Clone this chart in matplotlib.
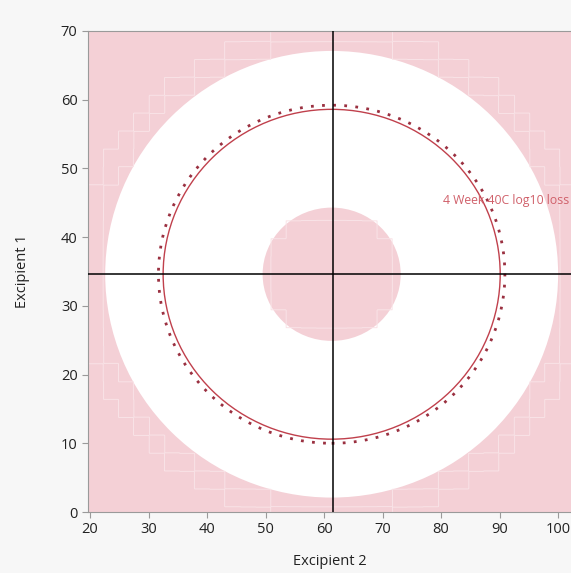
import numpy as np
import matplotlib
matplotlib.use("Agg")
import matplotlib.pyplot as plt
from matplotlib.patches import Ellipse

# ---- data ----
x_ticks = [20, 30, 40, 50, 60, 70, 80, 90, 100]
y_ticks = [0, 10, 20, 30, 40, 50, 60, 70]
x_label = "Excipient 2"
y_label = "Excipient 1"
cross_x = 61.5          # current Excipient 2 setting
cross_y = 34.6          # current Excipient 1 setting
center_x = 61.3
center_y = 34.6
outer_white_r = (38.7, 32.5)   # outer edge of white (feasible) band
inner_white_r = (11.8, 9.7)    # inner pink disk
contour_r = (28.8, 24.0)       # solid contour
contour_dot_r = (29.6, 24.6)   # dotted contour
contour_label = "4 Week 40C log10 loss"
label_pos = (80.3, 45.3)

pink = "#f4d0d6"
bg = "#f7f7f7"

fig = plt.figure(figsize=(5.71, 5.73), dpi=100, facecolor=bg)
ax = fig.add_axes([88/571, (573-512)/573, (571-88)/571, (512-31)/573])
ax.set_xlim(19.66, 102.2)
ax.set_ylim(0, 70)
ax.set_facecolor(pink)

# white band
ax.add_patch(Ellipse((center_x, center_y), 2*outer_white_r[0], 2*outer_white_r[1],
                     facecolor="white", edgecolor="none", zorder=1))
ax.add_patch(Ellipse((center_x, center_y), 2*inner_white_r[0], 2*inner_white_r[1],
                     facecolor=pink, edgecolor="none", zorder=2))

# faint staircase outlines (coarse-grid shading edges)
xs = np.linspace(19.66, 102.2, 800)
ys = np.linspace(0, 70, 700)
X, Y = np.meshgrid(xs, ys)
step = 2.6
Xq = (np.floor((X - center_x) / step) + 0.5) * step
Yq = (np.floor((Y - center_y) / step) + 0.5) * step
Z = (Xq / outer_white_r[0])**2 + (Yq / outer_white_r[1])**2
ax.contour(X, Y, Z, levels=[1.08, 1.25], colors=["#f9e3e7"], linewidths=0.7, zorder=1.5)
Zi = (Xq / inner_white_r[0])**2 + (Yq / inner_white_r[1])**2
ax.contour(X, Y, Zi, levels=[0.8], colors=["#f9e3e7"], linewidths=0.7, zorder=2.5)

# contours
ax.add_patch(Ellipse((center_x, center_y), 2*contour_r[0], 2*contour_r[1],
                     facecolor="none", edgecolor="#c0404c", lw=1.0, zorder=3))
ax.add_patch(Ellipse((center_x, center_y), 2*contour_dot_r[0], 2*contour_dot_r[1],
                     facecolor="none", edgecolor="#9a3040", lw=2.0,
                     linestyle=(0, (1.0, 3.0)), zorder=3))

ax.text(label_pos[0], label_pos[1], contour_label, color="#d0606a", fontsize=8.8,
        family="Open Sans", va="center", ha="left", zorder=4, clip_on=False)

# crosshair
ax.axvline(cross_x, color="black", lw=1.1, zorder=5)
ax.axhline(cross_y, color="black", lw=1.1, zorder=5)

for s in ["left", "bottom", "top"]:
    ax.spines[s].set_color("#9a9a9a")
    ax.spines[s].set_linewidth(0.8)
ax.spines["right"].set_visible(False)

ax.set_xticks(x_ticks)
ax.set_yticks(y_ticks)
ax.tick_params(colors="#9a9a9a", labelcolor="#222222", labelsize=10.5, length=4, width=0.8)
for lab in ax.get_xticklabels() + ax.get_yticklabels():
    lab.set_family("Open Sans")
ax.set_xlabel(x_label, fontsize=10.5, family="Open Sans", color="#222222", labelpad=12)
ax.set_ylabel(y_label, fontsize=10.5, family="Open Sans", color="#222222", labelpad=22)

fig.savefig("out.png", dpi=100, facecolor=bg)
